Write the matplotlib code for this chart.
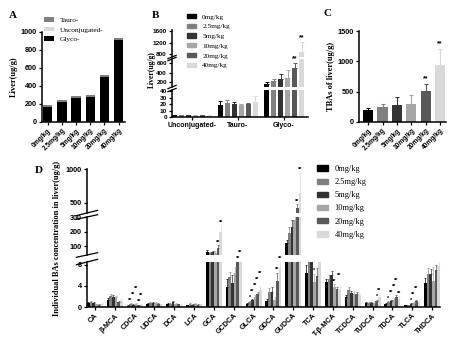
import matplotlib
matplotlib.use('Agg')
import matplotlib.pyplot as plt
import numpy as np

W, H = 457, 350
SANS = 'Liberation Sans'
SERIF = 'Liberation Serif'

doses = ['0mg/kg', '2.5mg/kg', '5mg/kg', '10mg/kg', '20mg/kg', '40mg/kg']
colors = ['#000000', '#808080', '#333333', '#a6a6a6', '#595959', '#d9d9d9']

# panel A (stacked, ug/g)
a_glyco = [163, 218, 263, 278, 496, 911]
a_unconj = [3, 3, 3, 2.5, 2.5, 2.5]
a_tauro = [19, 23, 19, 19.5, 19.5, 23.5]

# panel B
b_groups = ['Unconjugated-', 'Tauro-', 'Glyco-']
b_unconj = [2.8, 2.6, 2.7, 2.3, 2.4, 2.2]
b_unconj_err = [0.6, 0.5, 0.6, 0.4, 0.4, 0.4]
b_tauro = [19, 22, 20, 18.5, 19.5, 24]
b_tauro_err = [6, 5, 4, 2, 2, 8]
b_glyco = [160, 215, 258, 275, 495, 900]
b_glyco_err = [35, 55, 120, 170, 110, 320]
b_stars = [(2, 4, '**'), (2, 5, '**')]

# panel C
c_tba = [190, 245, 280, 295, 515, 935]
c_tba_err = [45, 57, 130, 155, 115, 275]
c_stars = [(4, '**'), (5, '**')]

# panel D
d_names = ['CA', 'β-MCA', 'CDCA', 'UDCA', 'DCA', 'LCA', 'GCA', 'GCDCA', 'GLCA',
           'GDCA', 'GUDCA', 'TCA', 'T-β-MCA', 'TCDCA', 'TUDCA', 'TDCA', 'TLCA', 'THDCA']
d_vals = [
    [0.8, 0.9, 0.7, 0.5, 0.4, 0.6],
    [1.3, 2.1, 1.9, 1.8, 0.9, 1.1],
    [0.2, 0.5, 0.4, 0.6, 0.3, 0.4],
    [0.6, 0.7, 0.8, 0.7, 0.6, 0.5],
    [0.5, 0.6, 0.9, 0.6, 0.5, 0.4],
    [0.3, 0.5, 0.4, 0.6, 0.4, 0.5],
    [62, 52, 58, 56, 85, 200],
    [3.7, 5.7, 4.6, 6.4, 14, 18],
    [0.5, 0.9, 1.3, 1.8, 2.4, 3.3],
    [1.2, 2.8, 2.8, 1.4, 5.0, 7.4],
    [120, 190, 230, 280, 420, 650],
    [6.5, 9.5, 9.5, 4.8, 5.8, 9.5],
    [4.7, 5.3, 6.0, 3.8, 3.4, 3.2],
    [1.8, 3.2, 2.6, 2.4, 2.4, 2.3],
    [0.8, 0.7, 0.8, 0.8, 1.1, 1.9],
    [0.5, 0.9, 1.1, 1.4, 1.9, 1.6],
    [0.3, 0.3, 0.5, 0.8, 1.1, 1.0],
    [4.6, 6.3, 6.2, 5.0, 7.0, 7.8],
]
d_err = [
    [0.2, 0.2, 0.2, 0.1, 0.1, 0.2],
    [0.4, 0.3, 0.3, 0.2, 0.3, 0.4],
    [0.1, 0.2, 0.1, 0.2, 0.1, 0.2],
    [0.2, 0.2, 0.2, 0.2, 0.1, 0.1],
    [0.2, 0.2, 0.2, 0.2, 0.1, 0.1],
    [0.1, 0.2, 0.1, 0.2, 0.1, 0.1],
    [10, 8, 9, 8, 20, 40],
    [1.5, 1.0, 1.5, 1.2, 6, 8],
    [0.2, 0.3, 0.3, 0.4, 0.5, 0.7],
    [0.4, 0.8, 0.9, 0.5, 1.5, 2.0],
    [20, 40, 50, 60, 60, 290],
    [1.5, 8, 8, 1.5, 1.5, 5],
    [0.5, 0.8, 0.8, 0.5, 0.4, 0.6],
    [0.4, 0.5, 0.5, 0.4, 0.4, 0.4],
    [0.2, 0.2, 0.2, 0.2, 0.3, 0.4],
    [0.2, 0.2, 0.3, 0.3, 0.4, 0.4],
    [0.1, 0.1, 0.2, 0.2, 0.3, 0.3],
    [0.8, 1.0, 1.0, 2.5, 1.0, 1.2],
]
d_stars = [
    ('CDCA', 1, '**'), ('CDCA', 2, '**'), ('CDCA', 3, '**'), ('CDCA', 4, '**'), ('CDCA', 5, '**'),
    ('GCA', 4, '**'), ('GCA', 5, '**'),
    ('GCDCA', 4, '**'), ('GCDCA', 5, '**'),
    ('GLCA', 1, '*'), ('GLCA', 2, '**'), ('GLCA', 3, '**'), ('GLCA', 4, '**'), ('GLCA', 5, '**'),
    ('GDCA', 4, '**'), ('GDCA', 5, '**'),
    ('GUDCA', 4, '**'), ('GUDCA', 5, '**'),
    ('TCA', 3, '*'),
    ('T-β-MCA', 3, '**'), ('T-β-MCA', 5, '**'),
    ('TUDCA', 4, '*'), ('TUDCA', 5, '**'),
    ('TDCA', 1, '*'), ('TDCA', 2, '**'), ('TDCA', 3, '**'), ('TDCA', 4, '**'), ('TDCA', 5, '**'),
    ('TLCA', 2, '*'), ('TLCA', 3, '**'), ('TLCA', 4, '**'),
]

fig = plt.figure(figsize=(W / 100, H / 100), dpi=100)


def box(x0, y0, x1, y1):
    return [x0 / W, 1 - y1 / H, (x1 - x0) / W, (y1 - y0) / H]


def style(ax, bottom=True, tsize=5.2):
    for s in ['top', 'right']:
        ax.spines[s].set_visible(False)
    ax.spines['left'].set_linewidth(1.1)
    ax.spines['bottom'].set_linewidth(1.1)
    if not bottom:
        ax.spines['bottom'].set_visible(False)
        ax.tick_params(axis='x', bottom=False, labelbottom=False)
    ax.tick_params(direction='out', length=2.5, width=0.9, pad=1.2)
    for t in ax.get_yticklabels():
        t.set_fontfamily(SANS)
        t.set_fontweight('bold')
        t.set_fontsize(tsize)


def slash(ax, where):
    # small break mark on the left spine
    y = 1.0 if where == 'top' else 0.0
    ax.plot([-0.03, 0.03], [y - 0.06, y + 0.06], transform=ax.transAxes,
            color='black', lw=0.9, clip_on=False)


def disp_pos(ax_list, x, v):
    # display position of value v across broken segments (gap -> top of lower one)
    for i, ax in enumerate(ax_list):
        lo, hi = ax.get_ylim()
        if v <= hi or i == len(ax_list) - 1:
            if v < lo and i > 0:
                ax = ax_list[i - 1]
                v = ax.get_ylim()[1]
            return ax.transData.transform((x, min(v, ax.get_ylim()[1] * 1.2)))


def put_star(xd, yd, text, size):
    xf, yf = fig.transFigure.inverted().transform((xd, yd))
    fig.text(xf, yf + 0.002, text, ha='center', va='bottom',
             fontsize=size, family=SANS, fontweight='bold')


# ---------- A ----------
axA = fig.add_axes(box(42, 32, 125, 122))
x = np.arange(6)
bw = 0.66
axA.bar(x, a_glyco, bw, color=colors[0], label='Glyco-')
bot = np.array(a_glyco, float)
axA.bar(x, a_unconj, bw, bottom=bot, color='#d9d9d9', label='Unconjugated-')
bot = bot + np.array(a_unconj)
axA.bar(x, a_tauro, bw, bottom=bot, color='#808080', label='Tauro-')
axA.set_xlim(-0.4, 5.45)
axA.set_ylim(0, 1000)
axA.set_yticks([0, 200, 400, 600, 800, 1000])
axA.set_xticks(x)
axA.set_xticklabels(doses, rotation=45, ha='right', rotation_mode='anchor',
                    fontsize=4.8, family=SANS, fontweight='bold')
style(axA)
axA.set_ylabel('Liver(ug/g)', family=SERIF, fontweight='bold', fontsize=6, labelpad=2)
h, l = axA.get_legend_handles_labels()
axA.legend(h[::-1], l[::-1], loc='upper left', bbox_to_anchor=(44 / W, 1 - 17 / H),
           bbox_transform=fig.transFigure, frameon=False, prop={'family': SERIF, 'size': 5.3},
           handlelength=1.4, handleheight=0.6, labelspacing=0.5, handletextpad=0.8,
           borderaxespad=0, borderpad=0)

# ---------- B ----------
bx = np.arange(3)
pitch = 0.152
bwB = 0.11
bvals = [b_unconj, b_tauro, b_glyco]
berrs = [b_unconj_err, b_tauro_err, b_glyco_err]
axB3 = fig.add_axes(box(172, 30, 308, 57))
axB2 = fig.add_axes(box(172, 59, 308, 87))
axB1 = fig.add_axes(box(172, 90, 308, 117))
segB = [(axB1, (0, 42), [0, 10, 20, 30, 40]),
        (axB2, (90, 690), [200, 400, 600]),
        (axB3, (710, 1650), [800, 1200, 1600])]
for ax, lim, ticks in segB:
    for k in range(6):
        xs = bx + (k - 2.5) * pitch
        vals = [bvals[g][k] for g in range(3)]
        errs = [berrs[g][k] for g in range(3)]
        ax.bar(xs, vals, bwB, color=colors[k])
        ax.errorbar(xs, vals, yerr=[np.zeros(3), errs], fmt='none', ecolor=colors[k],
                    elinewidth=0.7, capsize=1.2, capthick=0.7)
    ax.set_ylim(*lim)
    ax.set_yticks(ticks)
    ax.set_xlim(-0.43, 2.52)
    style(ax, bottom=(ax is axB1), tsize=4.6)
axB1.set_xticks(bx)
axB1.set_xticklabels(b_groups, fontsize=5.0, family=SANS, fontweight='bold')
slash(axB1, 'top'); slash(axB2, 'bottom'); slash(axB2, 'top'); slash(axB3, 'bottom')
for g, k, t in b_stars:
    xd, yd = disp_pos([axB1, axB2, axB3], bx[g] + (k - 2.5) * pitch, b_glyco[k] + b_glyco_err[k])
    put_star(xd, yd, t, 5)
fig.text(152 / W, 1 - 70 / H, 'Liver(ug/g)', rotation=90, ha='center', va='center',
         family=SERIF, fontweight='bold', fontsize=5.5)
hB = [plt.Rectangle((0, 0), 1, 1, color=c) for c in colors]
fig.legend(hB, doses, loc='upper left', bbox_to_anchor=(187 / W, 1 - 14 / H),
           frameon=False, prop={'family': SERIF, 'size': 5.2},
           handlelength=1.3, handleheight=0.55, labelspacing=0.55, handletextpad=0.8,
           borderaxespad=0, borderpad=0)

# ---------- C ----------
axC = fig.add_axes(box(359, 31, 446, 122))
for k in range(6):
    axC.bar(k, c_tba[k], 0.7, color=colors[k])
    axC.errorbar(k, c_tba[k], yerr=[[0], [c_tba_err[k]]], fmt='none', ecolor=colors[k],
                 elinewidth=0.8, capsize=1.5, capthick=0.8)
axC.set_xlim(-0.63, 5.4)
axC.set_ylim(0, 1500)
axC.set_yticks([0, 500, 1000, 1500])
axC.set_xticks(x)
axC.set_xticklabels(doses, rotation=45, ha='right', rotation_mode='anchor',
                    fontsize=4.8, family=SANS, fontweight='bold')
style(axC)
axC.set_ylabel('TBAs of liver(ug/g)', family=SERIF, fontweight='bold', fontsize=6, labelpad=2)
for k, t in c_stars:
    axC.text(k, c_tba[k] + c_tba_err[k] + 20, t, ha='center', va='bottom',
             fontsize=5, family=SANS, fontweight='bold')

# ---------- D ----------
dx = np.arange(len(d_names))
dp = 0.135
axD3 = fig.add_axes(box(87, 169, 440, 213))
axD2 = fig.add_axes(box(87, 217, 440, 255))
axD1 = fig.add_axes(box(87, 262, 440, 307))
segD = [(axD1, (0, 8.5), [0, 4, 8]),
        (axD2, (40, 300), [100, 200, 300]),
        (axD3, (350, 1000), [500, 1000])]
vals = np.array(d_vals)
errs = np.array(d_err)
for ax, lim, ticks in segD:
    for k in range(6):
        xs = dx + (k - 2.5) * dp
        ax.bar(xs, vals[:, k], dp, color=colors[k])
        ax.errorbar(xs, vals[:, k], yerr=[np.zeros(len(dx)), errs[:, k]], fmt='none',
                    ecolor=colors[k], elinewidth=0.5, capsize=0.6, capthick=0.5)
    ax.set_ylim(*lim)
    ax.set_yticks(ticks)
    ax.set_xlim(-0.4, 17.4)
    style(ax, bottom=(ax is axD1))
axD1.set_xticks(dx)
axD1.set_xticklabels(d_names, rotation=45, ha='right', rotation_mode='anchor',
                     fontsize=5.2, family=SANS, fontweight='bold')
slash(axD1, 'top'); slash(axD2, 'bottom'); slash(axD2, 'top'); slash(axD3, 'bottom')
prev = {}
for name, k, t in d_stars:
    i = d_names.index(name)
    xd, yd = disp_pos([axD1, axD2, axD3], dx[i] + (k - 2.5) * dp, d_vals[i][k] + d_err[i][k])
    # step a mark up when it would sit on its neighbour in the same group
    if name in prev and abs(yd - prev[name]) < 6:
        yd = prev[name] + 6
    prev[name] = yd
    put_star(xd, yd, t, 4.0)
fig.text(57 / W, 1 - 238 / H, 'Individual BAs concentration in liver(ug/g)', rotation=90,
         ha='center', va='center', family=SERIF, fontweight='bold', fontsize=6)
fig.legend(hB, doses, loc='upper left', bbox_to_anchor=(317 / W, 1 - 165 / H),
           frameon=False, prop={'family': SERIF, 'size': 6},
           handlelength=1.3, handleheight=0.6, labelspacing=0.62, handletextpad=0.8,
           borderaxespad=0, borderpad=0)

# panel letters
for lx, ly, lt in [(13, 15, 'A'), (155, 15, 'B'), (328, 14, 'C'), (39, 170, 'D')]:
    fig.text(lx / W, 1 - ly / H, lt, ha='center', va='center', family=SERIF,
             fontweight='bold', fontsize=8)

fig.savefig('out.png', dpi=100, facecolor='white')
